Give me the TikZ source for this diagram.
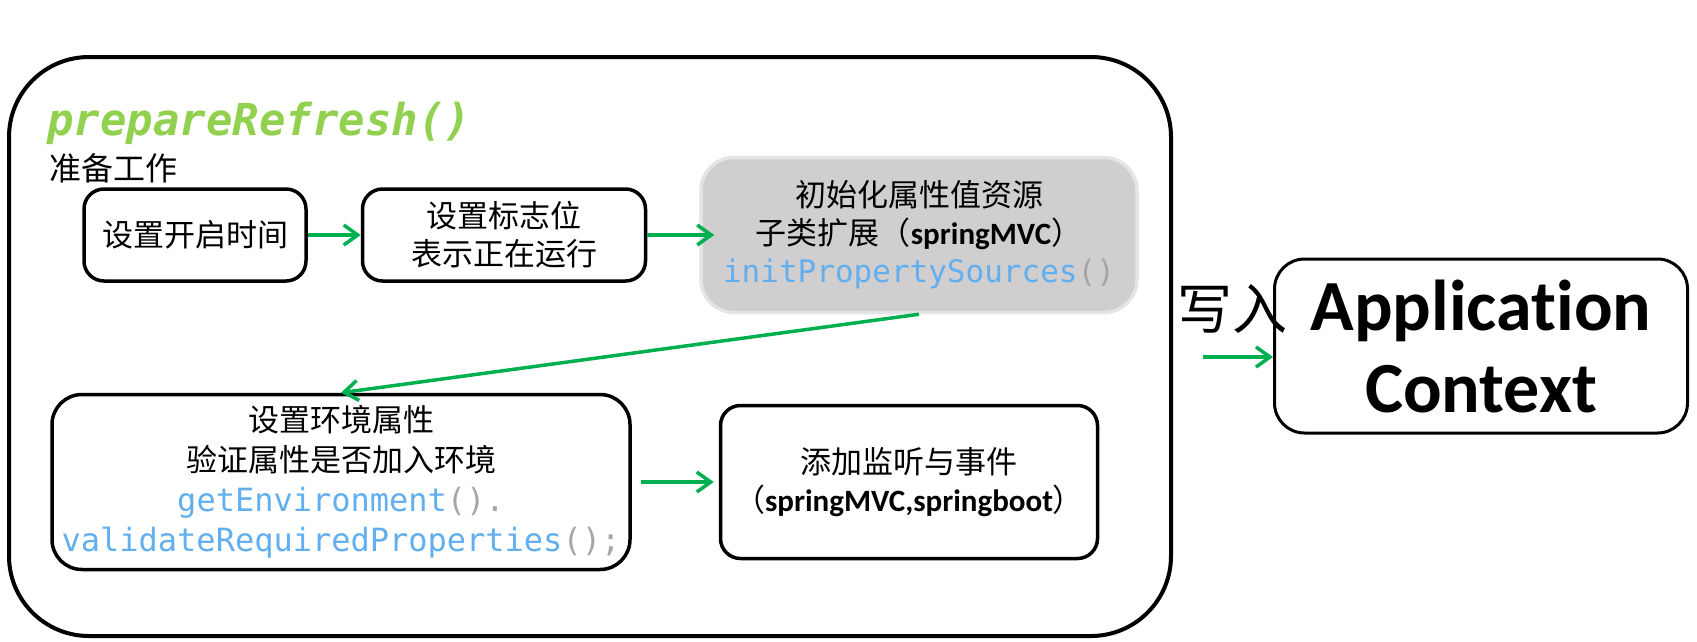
\documentclass[tikz,border=0pt]{standalone}
\usepackage{fontspec}
\setmainfont[Ligatures=NoCommon]{Carlito}
\newfontfamily\cjk{Noto Sans CJK SC}
\newfontfamily\latin[Ligatures=NoCommon]{Carlito}
\newfontfamily\codefont{DejaVu Sans Mono}
\usepackage{xcolor}
\definecolor{arrowgreen}{RGB}{0, 176, 80}
\definecolor{titlegreen}{RGB}{146, 208, 80}
\definecolor{codeblue}{RGB}{97, 175, 239}
\definecolor{codegray}{RGB}{165, 165, 165}
\definecolor{boxgray}{RGB}{208, 206, 206}
\definecolor{edgegray}{RGB}{228, 228, 228}
\usepackage{tikz}
\usetikzlibrary{
    arrows.meta,
    positioning
}
\newcommand{\fsz}[2]{\fontsize{#1}{#2}\selectfont}
\newcommand{\codeb}[1]{\textcolor{codeblue}{#1}}
\newcommand{\codeg}[1]{\textcolor{codegray}{#1}}

\begin{document}
\begin{tikzpicture}[
  x=1pt, y=-1pt,
  box/.style={draw, line width=3.5pt, rounded corners=20pt, align=center, inner sep=0pt, font=\cjk\fsz{31}{38}},
  arrow/.style={-{Straight Barb[length=14pt, width=20pt]}, line width=3.5pt, draw=arrowgreen}
]
\useasboundingbox (0,0) rectangle (1697,641);

\node[draw, line width=4pt, rounded corners=80pt, minimum width=1162pt, minimum height=579pt] (prep) at (590,346.5) {};
\node[anchor=base west, inner sep=0pt, text=titlegreen, font=\codefont\bfseries\itshape\fsz{44}{44}] (title) at (47,135) {prepareRefresh()};
\node[anchor=base west, inner sep=0pt, font=\cjk\fsz{32}{32}] (sub) at (49,180) {准备工作};

\node[box, minimum width=222pt, minimum height=92pt] (start) at (195,235) {设置开启时间};
\node[box, minimum width=283pt, minimum height=92pt, right=53pt of start] (flag) {设置标志位\\表示正在运行};
\node[box, draw=edgegray, fill=boxgray, rounded corners=33pt, minimum width=436pt, minimum height=155pt, right=52pt of flag] (init)
  {初始化属性值资源\\子类扩展（{\latin\bfseries springMVC}）\\{\codefont\codeb{initPropertySources}\codeg{()}}};
\node[box, rounded corners=30pt, minimum width=578pt, minimum height=175pt, font=\cjk\fsz{31}{40}] (env) at (341,482)
  {设置环境属性\\验证属性是否加入环境\\{\codefont\fsz{32}{40}\codeb{getEnvironment}\codeg{().}}\\{\codefont\fsz{32}{40}\codeb{validateRequiredProperties}\codeg{();}}};
\node[box, minimum width=377pt, minimum height=153pt, right=87pt of env] (listen) {添加监听与事件\\（{\latin\bfseries springMVC,springboot}）};

\node[box, line width=3pt, rounded corners=30pt, minimum width=413pt, minimum height=174pt, font=\latin\bfseries\fsz{72}{82}] (app) at (1481,346) {Application\\Context};
\node[inner sep=0pt, font=\cjk\fsz{55}{55}] (write) at (1232,309) {写入};
\coordinate (wstart) at (1203,357);

\draw[arrow] (start) -- (flag);
\draw[arrow, shorten >=-15pt] (flag) -- (init);
\draw[arrow] (init.south) -- (env.north);
\draw[arrow, shorten <=9pt, shorten >=5pt] (env) -- (listen);
\draw[arrow] (wstart) -- (wstart -| app.west);

\end{tikzpicture}
\end{document}
